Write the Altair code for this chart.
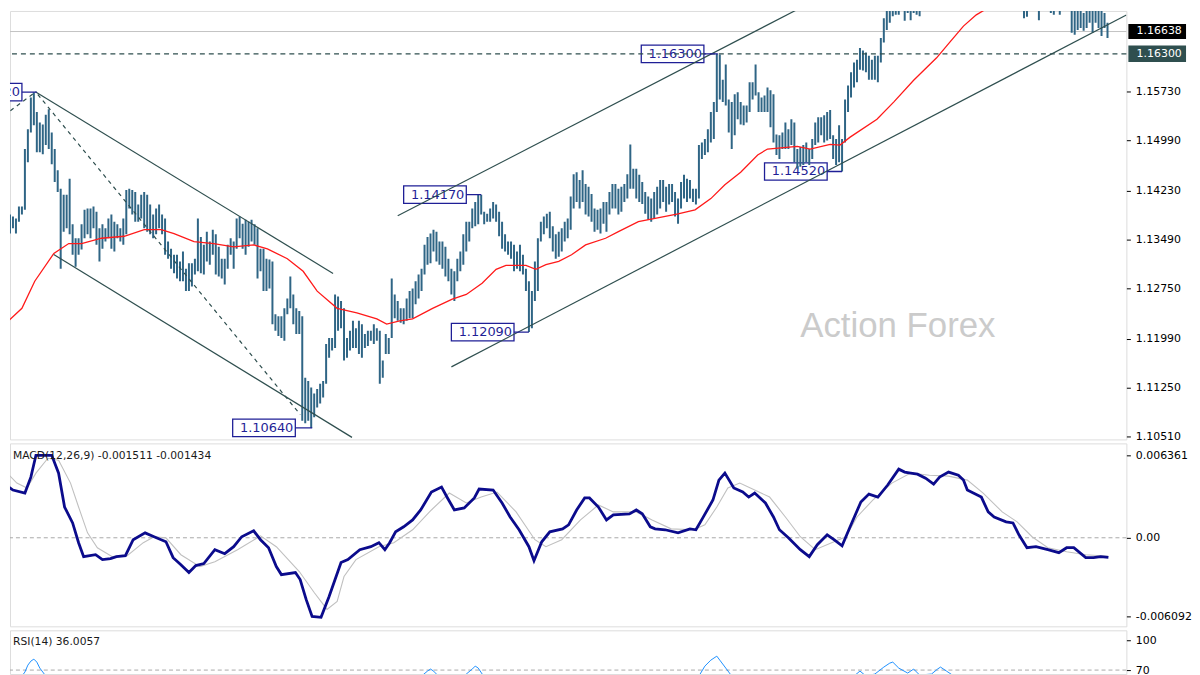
import altair as alt
import pandas as pd

# ---------------- data ----------------
# H4 bars, consecutive, first bar index = 1. Prices stored in pips (price * 10000)
FIRST_BAR = 1
HIGH_PIPS = [
    11387, 11384, 11381, 11399, 11399, 11486, 11516, 11564, 11572, 11542,
    11526, 11523, 11538, 11546, 11511, 11486, 11454, 11426, 11417, 11417,
    11441, 11372, 11351, 11351, 11372, 11394, 11396, 11396, 11399, 11391,
    11366, 11372, 11366, 11381, 11387, 11376, 11372, 11366, 11381, 11424,
    11426, 11424, 11421, 11402, 11417, 11421, 11417, 11402, 11387, 11396,
    11402, 11387, 11381, 11346, 11335, 11326, 11326, 11316, 11331, 11305,
    11313, 11313, 11320, 11381, 11353, 11341, 11361, 11346, 11364, 11357,
    11338, 11320, 11320, 11341, 11351, 11346, 11381, 11384, 11373, 11379,
    11376, 11379, 11372, 11366, 11335, 11335, 11320, 11319, 11316, 11236,
    11233, 11233, 11245, 11260, 11293, 11266, 11245, 11241, 11233, 11140,
    11135, 11125, 11116, 11123, 11131, 11135, 11191, 11200, 11200, 11266,
    11263, 11256, 11245, 11200, 11211, 11226, 11215, 11226, 11221, 11206,
    11211, 11211, 11221, 11215, 11211, 11166, 11206, 11200, 11290, 11266,
    11256, 11245, 11245, 11260, 11271, 11275, 11286, 11296, 11305, 11341,
    11353, 11358, 11364, 11361, 11346, 11346, 11338, 11320, 11305, 11301,
    11320, 11331, 11357, 11376, 11376, 11396, 11406, 11418, 11417, 11391,
    11388, 11396, 11406, 11402, 11391, 11376, 11357, 11346, 11346, 11341,
    11331, 11341, 11326, 11305, 11286, 11271, 11316, 11351, 11376, 11384,
    11388, 11391, 11369, 11357, 11361, 11366, 11376, 11381, 11414, 11448,
    11451, 11439, 11454, 11433, 11429, 11418, 11396, 11394, 11396, 11406,
    11406, 11421, 11433, 11433, 11426, 11429, 11433, 11448, 11493, 11456,
    11456, 11447, 11436, 11421, 11414, 11411, 11421, 11429, 11439, 11439,
    11429, 11433, 11433, 11421, 11411, 11436, 11447, 11441, 11439, 11426,
    11426, 11492, 11496, 11501, 11516, 11542, 11557, 11630, 11629, 11591,
    11614, 11561, 11557, 11569, 11572, 11557, 11552, 11552, 11587, 11587,
    11614, 11572, 11564, 11567, 11579, 11575, 11569, 11508, 11507, 11511,
    11526, 11516, 11531, 11526, 11486, 11489, 11492, 11496, 11486, 11501,
    11526, 11534, 11534, 11537, 11542, 11545, 11507, 11501, 11522, 11501,
    11561, 11582, 11602, 11617, 11621, 11639, 11635, 11632, 11627, 11621,
    11627, 11627, 11654, 11684, 11737, 11745, 11752, 11752, 11752, 11760,
    11752, 11760, 11760, 11767, 11767, 11767, 11775, 11782, 11782, 11782,
    11790, 11800, 11810, 11805, 11815, 11820, 11825, 11830, 11820, 11810,
    11800, 11795, 11790, 11800, 11805, 11795, 11790, 11780, 11785, 11790,
    11780, 11775, 11780, 11785, 11775, 11770, 11772, 11768, 11765, 11752,
    11752, 11752, 11767, 11767, 11760, 11752, 11760, 11767, 11760, 11752,
    11752, 11752, 11752, 11760, 11767, 11752, 11737, 11730, 11707, 11699,
    11692, 11699, 11695, 11699, 11696, 11695, 11696, 11692, 11677,
]
LOW_PIPS = [
    11358, 11366, 11358, 11376, 11387, 11394, 11466, 11511, 11522, 11481,
    11481, 11478, 11492, 11486, 11463, 11436, 11421, 11305, 11361, 11366,
    11357, 11326, 11308, 11326, 11334, 11351, 11357, 11351, 11366, 11341,
    11316, 11335, 11346, 11351, 11335, 11331, 11351, 11346, 11341, 11357,
    11396, 11387, 11376, 11376, 11381, 11366, 11361, 11357, 11351, 11357,
    11366, 11357, 11326, 11320, 11305, 11298, 11290, 11286, 11286, 11271,
    11271, 11278, 11296, 11301, 11298, 11296, 11316, 11311, 11326, 11296,
    11293, 11290, 11281, 11305, 11326, 11305, 11335, 11351, 11335, 11326,
    11338, 11346, 11341, 11290, 11301, 11271, 11271, 11275, 11221, 11211,
    11203, 11200, 11196, 11236, 11245, 11221, 11206, 11206, 11075, 11071,
    11075, 11064, 11080, 11095, 11101, 11110, 11131, 11170, 11181, 11185,
    11211, 11215, 11166, 11170, 11181, 11185, 11185, 11176, 11170, 11185,
    11188, 11196, 11191, 11196, 11131, 11140, 11176, 11176, 11200, 11230,
    11226, 11223, 11221, 11226, 11230, 11230, 11251, 11260, 11271, 11296,
    11311, 11313, 11331, 11316, 11311, 11305, 11293, 11286, 11266, 11256,
    11286, 11301, 11311, 11331, 11346, 11366, 11369, 11372, 11387, 11372,
    11376, 11376, 11381, 11376, 11354, 11335, 11331, 11326, 11320, 11301,
    11305, 11301, 11296, 11271, 11209, 11215, 11256, 11271, 11346, 11357,
    11366, 11351, 11331, 11320, 11323, 11331, 11346, 11351, 11364, 11396,
    11406, 11396, 11406, 11387, 11384, 11376, 11361, 11364, 11358, 11373,
    11361, 11387, 11396, 11396, 11387, 11391, 11406, 11411, 11426, 11426,
    11411, 11406, 11403, 11388, 11379, 11376, 11381, 11387, 11396, 11406,
    11391, 11402, 11406, 11384, 11373, 11396, 11411, 11406, 11411, 11406,
    11402, 11411, 11471, 11477, 11481, 11496, 11501, 11542, 11561, 11557,
    11552, 11511, 11486, 11507, 11531, 11523, 11522, 11526, 11542, 11561,
    11567, 11542, 11542, 11542, 11542, 11519, 11496, 11477, 11471, 11486,
    11486, 11486, 11492, 11466, 11456, 11459, 11462, 11466, 11462, 11471,
    11492, 11496, 11507, 11496, 11499, 11501, 11471, 11462, 11466, 11452,
    11496, 11542, 11564, 11579, 11587, 11606, 11605, 11602, 11591, 11591,
    11591, 11587, 11617, 11647, 11666, 11677, 11687, 11689, 11689, 11696,
    11680, 11692, 11681, 11692, 11689, 11687, 11714, 11714, 11714, 11704,
    11720, 11740, 11750, 11745, 11760, 11770, 11775, 11770, 11760, 11750,
    11740, 11735, 11730, 11740, 11745, 11735, 11725, 11720, 11725, 11730,
    11722, 11718, 11720, 11725, 11718, 11715, 11716, 11712, 11710, 11699,
    11684, 11686, 11708, 11711, 11695, 11681, 11699, 11708, 11699, 11692,
    11689, 11695, 11689, 11708, 11711, 11699, 11662, 11659, 11666, 11669,
    11665, 11669, 11677, 11662, 11677, 11669, 11657, 11669, 11654,
]

# red moving average (bar index, price in pips)
MA_BAR = [-0.67, 5, 9.3, 15.7, 20.7, 25, 31.7, 39.3, 46, 51.7, 56, 62.7, 69.3, 76, 82.7,
          87.3, 94, 99.3, 104, 110.7, 117.3, 124, 127.3, 131.7, 136, 142.7, 149.3, 154,
          159.3, 164, 167.3, 174, 177.3, 180.7, 185, 189.3, 194, 200.7, 205, 211.7, 217.3,
          225, 230.7, 236, 240.7, 246, 251.7, 255, 265, 269.3, 276, 279.3, 282.7, 291.7,
          297.3, 304, 311.7, 316, 320.7, 325, 331.7, 341.7, 369]
MA_PIPS = [11221, 11245, 11286, 11328, 11343, 11343, 11351, 11354, 11364, 11364, 11358,
           11346, 11343, 11338, 11341, 11335, 11320, 11301, 11271, 11245, 11238, 11229,
           11221, 11226, 11229, 11245, 11259, 11266, 11283, 11304, 11310, 11310, 11304,
           11311, 11316, 11326, 11341, 11351, 11361, 11376, 11381, 11388, 11394, 11411,
           11432, 11451, 11477, 11486, 11490, 11486, 11493, 11492, 11504, 11531, 11557,
           11590, 11624, 11647, 11672, 11689, 11707, 11725, 11740]

# trend lines: (name, bar1, price1, bar2, price2, dashed)
TRENDS = [
    ("down_top", 9.5, 1.15725, 109.33, 1.12978, False),
    ("down_bottom", 15.67, 1.13264, 115.67, 1.10497, False),
    ("down_mid", 10.33, 1.15685, 98.33, 1.10842, True),
    ("left_rise", -1.0, 1.15369, 9.33, 1.15715, True),
    ("up_top", 131.0, 1.13850, 275.0, 1.17204, False),
    ("up_bottom", 149.0, 1.11564, 375.33, 1.16888, False),
]

# price labels on the chart: text, price, bar at box right edge, bar the connector reaches
LABEL_TEXT = ["1.15720", "1.16300", "1.14170", "1.14520", "1.12090", "1.10640"]
LABEL_PRICE = [1.15720, 1.16300, 1.14170, 1.14520, 1.12090, 1.10640]
LABEL_RIGHT = [5.0, 233.67, 154.0, 275.0, 170.0, 96.67]
LABEL_END = [10.0, 238.33, 159.0, 280.0, 175.0, 102.33]

PRICE_TICKS = [1.15730, 1.14990, 1.14230, 1.13490, 1.12750, 1.11990, 1.11250, 1.10510]
LAST_PRICE = 1.16638
LEVEL_PRICE = 1.16300

# MACD main (bar index, value * 1e4)
MACD_BAR = [-0.33, 2, 6, 8, 9.7, 15, 17.3, 19.3, 22, 24, 25.7, 29.7, 32, 34.7, 36.7, 39.7,
            42.3, 46.3, 49.3, 53.3, 55.7, 58.3, 61, 63.3, 66, 69.7, 73, 76, 78.7, 82.7, 85,
            87.7, 90.3, 92, 96.7, 98.3, 100.3, 102.3, 105.3, 108, 110, 112, 114.3, 118.3,
            122, 124.7, 126.7, 128.3, 130.3, 133, 136, 138.7, 142.3, 145.7, 147.7, 150,
            153.3, 156.7, 158.3, 163, 166, 168.7, 171.7, 175, 176.7, 179.3, 182, 186.3,
            188.3, 191, 193.7, 195.3, 198.3, 201, 203.3, 208.7, 211, 213, 215.7, 217.3,
            220.7, 225, 229, 231, 233.3, 236.7, 238.7, 240.7, 243.7, 246.7, 248.7, 250.7,
            254.3, 257, 259, 262, 266, 269, 271.7, 275, 277.3, 280, 282.7, 286.3, 289, 292,
            295.3, 299, 301, 303, 305.3, 308, 310.7, 312.7, 315.7, 319, 320.7, 322, 324,
            326.7, 329, 331, 335, 337.3, 339.3, 342, 345, 349, 352.7, 355.3, 357.7, 361.7,
            364.3, 366.7, 369.3]
MACD_VAL = [40.8, 36.9, 34.6, 46.9, 63.8, 63.8, 50.0, 23.8, 11.5, -3.8, -14.6, -13.1, -16.9,
            -16.1, -14.6, -13.8, -1.5, 3.8, 0.8, -3.1, -15.4, -20.8, -26.9, -21.5, -20.0,
            -9.2, -12.3, -6.9, 0.8, 5.4, -1.5, -7.7, -22.3, -28.5, -26.9, -32.3, -47.7,
            -60.8, -61.5, -45.4, -32.3, -19.2, -16.9, -9.2, -6.9, -3.8, -9.2, -3.8, 4.6,
            8.5, 13.8, 21.5, 35.4, 39.2, 30.8, 21.5, 23.1, 30.8, 37.7, 36.9, 26.9, 16.1,
            6.2, -6.9, -17.7, -3.1, 4.6, 6.9, 10.0, 21.5, 30.8, 30.8, 23.8, 13.8, 17.7,
            18.5, 21.5, 18.5, 8.5, 6.9, 6.2, 3.8, 6.9, 6.2, 15.4, 29.2, 44.6, 50.0, 38.5,
            35.4, 31.5, 34.6, 26.9, 16.1, 6.2, 0.0, -9.2, -14.6, -5.4, 2.3, -1.5, -6.2, 8.5,
            27.7, 33.8, 31.5, 40.8, 53.1, 50.8, 50.0, 49.2, 46.1, 41.5, 46.9, 50.8, 48.4,
            44.6, 36.9, 34.6, 31.5, 20.0, 16.1, 12.3, 11.5, 2.3, -7.7, -6.9, -9.2, -11.5,
            -7.7, -7.7, -15.4, -15.4, -14.6, -15.11]
# MACD signal (bar index, value * 1e4)
SIG_BAR = [-0.3, 3.3, 6.7, 9.7, 13.7, 17.3, 21.3, 24, 27, 30.3, 35.3, 40.3, 45.7, 49.3, 53.3,
           58.3, 64.7, 69.7, 77.3, 85, 90.3, 98, 103, 107.3, 110.7, 113, 117, 124.7, 129.7,
           136, 142.3, 148.3, 154, 159, 164.3, 170.7, 177, 180.7, 186, 192.3, 198.3, 203.3,
           211, 216.3, 222.7, 230.3, 234, 238, 241.7, 245.7, 250.7, 255.7, 261, 266, 271,
           277.3, 281.3, 285, 290.3, 296.7, 303, 309.3, 315.7, 322, 327.3, 333.7, 338.7,
           343.7, 349, 355.3, 361.7, 369.3]
SIG_VAL = [50.8, 42.3, 38.5, 50.0, 61.5, 60.0, 42.3, 23.8, 3.8, -7.7, -14.6, -13.8, -3.8, 0.8,
           0.0, -13.1, -22.3, -18.5, -9.2, 1.5, -6.9, -26.1, -42.3, -55.4, -49.2, -30.0,
           -16.9, -6.9, -3.8, 6.2, 21.5, 34.6, 26.9, 31.5, 35.4, 20.0, -1.5, -6.9, -1.5,
           13.8, 25.4, 20.0, 20.0, 13.8, 6.9, 6.2, 10.0, 23.8, 38.5, 42.3, 36.9, 31.5, 16.1,
           0.8, -9.2, -3.1, 0.8, 16.1, 29.2, 42.3, 50.0, 48.4, 47.7, 44.6, 34.6, 20.0, 12.3,
           0.8, -7.7, -10.8, -13.1, -14.34]
MACD_TICKS = [0.006361, 0.0, -0.006092]

# RSI(14)
RSI_BAR = [1, 4, 6, 7, 8, 9, 10, 11, 13, 18, 25, 40, 60, 80, 100, 110, 125, 135, 139, 141,
           142, 143, 145, 150, 154, 156, 157, 158, 160, 175, 190, 209, 225, 232, 234, 236,
           238, 239, 241, 243, 262, 280, 284, 286, 288, 291, 294, 296, 297, 299, 302, 304,
           306, 310, 312, 313, 315, 318, 330, 345, 357, 369]
RSI_VAL = [55, 60, 68, 75, 79, 81, 78, 72, 64, 45, 38, 52, 35, 48, 22, 45, 40, 55, 64, 69,
           71, 69, 63, 55, 66, 71, 74, 72, 63, 38, 60, 62, 50, 64, 74, 80, 84, 80, 72, 64,
           42, 40, 64, 69, 64, 66, 73, 77, 78, 72, 67, 71, 65, 66, 71, 73, 69, 63, 55, 48,
           40, 36]
RSI_TICKS = [100, 70]

# ---------------- styling / layout ----------------
W = 1123
H_MAIN, H_MACD, H_RSI = 431, 184, 44
X_DOM = [1, 375.333]
P_DOM = [1.10466, 1.16949]
M_DOM = [-0.00685, 0.0073]
R_DOM = [66, 110]
BAR_COLOR = "#2f6585"
LINE_COLOR = "#2f4f4f"
LABEL_COLOR = "#1f1f96"
FONT = "DejaVu Sans"

bars_df = pd.DataFrame([
    {"bar": FIRST_BAR + k, "high": h / 1e4, "low": l / 1e4}
    for k, (h, l) in enumerate(zip(HIGH_PIPS, LOW_PIPS))
])
ma_df = pd.DataFrame([{"bar": b, "p": v / 1e4} for b, v in zip(MA_BAR, MA_PIPS)])
trend_rows = []
for name, b1, p1, b2, p2, dashed in TRENDS:
    trend_rows.append({"id": name, "bar": b1, "p": p1, "dashed": dashed})
    trend_rows.append({"id": name, "bar": b2, "p": p2, "dashed": dashed})
trend_df = pd.DataFrame(trend_rows)
labels_df = pd.DataFrame([
    {"text": t, "p": p, "right": r, "end": e, "left": r - 21,
     "top": p + 0.00132, "bot": p - 0.00132}
    for t, p, r, e in zip(LABEL_TEXT, LABEL_PRICE, LABEL_RIGHT, LABEL_END)
])
axis_boxes_df = pd.DataFrame([
    {"p": LAST_PRICE, "text": f"{LAST_PRICE:.5f}", "fill": "#000000",
     "top": LAST_PRICE + 0.00115, "bot": LAST_PRICE - 0.00115},
    {"p": LEVEL_PRICE, "text": f"{LEVEL_PRICE:.5f}", "fill": "#2f4f4f",
     "top": LEVEL_PRICE + 0.00125, "bot": LEVEL_PRICE - 0.00125},
])
macd_df = pd.DataFrame([{"bar": b, "v": v / 1e4} for b, v in zip(MACD_BAR, MACD_VAL)])
sig_df = pd.DataFrame([{"bar": b, "v": v / 1e4} for b, v in zip(SIG_BAR, SIG_VAL)])
rsi_df = pd.DataFrame([{"bar": b, "v": v} for b, v in zip(RSI_BAR, RSI_VAL)])


def axis_common(values, label_expr=None, fmt=None):
    kw = dict(orient="right", values=values, labelFont=FONT, labelFontSize=11,
              labelColor="#000000", tickColor="#000000", tickSize=4, tickWidth=1,
              domain=False, grid=False, labelPadding=5, title=None,
              labelFlush=False, labelOverlap=False, labelBound=False)
    if label_expr is not None:
        kw["labelExpr"] = label_expr
    if fmt is not None:
        kw["format"] = fmt
    return alt.Axis(**kw)


PRICE_AXIS = axis_common(PRICE_TICKS, fmt=".5f")
MACD_AXIS = axis_common(
    MACD_TICKS,
    label_expr=("datum.value == 0 ? '0.00' : (datum.value < 0 ? '-' + format(-datum.value, '.6f')"
                " : format(datum.value, '.6f'))"))
RSI_AXIS = axis_common(RSI_TICKS, fmt="d")


def xenc(field="bar"):
    return alt.X(field, type="quantitative",
                 scale=alt.Scale(domain=X_DOM, nice=False, zero=False), axis=None)


def penc(field):
    return alt.Y(field, type="quantitative",
                 scale=alt.Scale(domain=P_DOM, nice=False, zero=False), axis=PRICE_AXIS)


def menc(field):
    return alt.Y(field, type="quantitative",
                 scale=alt.Scale(domain=M_DOM, nice=False, zero=False), axis=MACD_AXIS)


def renc(field):
    return alt.Y(field, type="quantitative",
                 scale=alt.Scale(domain=R_DOM, nice=False, zero=False), axis=RSI_AXIS)


# ---------------- main price panel ----------------
watermark = alt.Chart(pd.DataFrame([{"bar": 298.7, "p": 1.1218, "t": "Action Forex"}])).mark_text(
    font="Liberation Sans", fontSize=35, color="#cbcbcb", align="center", baseline="middle"
).encode(x=xenc(), y=penc("p"), text="t:N")

label_rects = alt.Chart(labels_df).mark_rect(
    fill="white", stroke=LABEL_COLOR, strokeWidth=1.3, clip=True
).encode(x=xenc("left"), x2="right:Q", y=penc("top"), y2="bot:Q")

label_texts = alt.Chart(labels_df).mark_text(
    font=FONT, fontSize=13, color=LABEL_COLOR, align="right", baseline="middle", clip=True,
    dx=-2
).encode(x=xenc("right"), y=penc("p"), text="text:N")

label_conn = alt.Chart(labels_df).mark_rule(
    color=LABEL_COLOR, strokeWidth=1.3, clip=True
).encode(x=xenc("right"), x2="end:Q", y=penc("p"))

bid_line = alt.Chart(pd.DataFrame([{"p": LAST_PRICE}])).mark_rule(
    color="#c4c4c4", strokeWidth=1
).encode(y=penc("p"))

bars = alt.Chart(bars_df).mark_rule(color=BAR_COLOR, strokeWidth=2, clip=True).encode(
    x=xenc(), y=penc("high"), y2="low:Q"
)

ma_line = alt.Chart(ma_df).mark_line(color="#ff1a1a", strokeWidth=1.3, clip=True).encode(
    x=xenc(), y=penc("p"), order="bar:Q"
)

trend_solid = alt.Chart(trend_df[~trend_df["dashed"]]).mark_line(
    color=LINE_COLOR, strokeWidth=1.2, clip=True
).encode(x=xenc(), y=penc("p"), detail="id:N")

trend_dashed = alt.Chart(trend_df[trend_df["dashed"]]).mark_line(
    color=LINE_COLOR, strokeWidth=1.2, strokeDash=[4, 4], clip=True
).encode(x=xenc(), y=penc("p"), detail="id:N")

level_line = alt.Chart(pd.DataFrame([{"p": LEVEL_PRICE}])).mark_rule(
    color=LINE_COLOR, strokeWidth=1.2, strokeDash=[5, 4]
).encode(y=penc("p"))

axis_boxes = alt.Chart(axis_boxes_df).mark_rect().encode(
    x=alt.value(W + 2), x2=alt.value(W + 60), y=penc("top"), y2="bot:Q",
    color=alt.Color("fill:N", scale=None, legend=None)
)
axis_box_text = alt.Chart(axis_boxes_df).mark_text(
    font=FONT, fontSize=11, color="white", align="center", baseline="middle"
).encode(x=alt.value(W + 33), y=penc("p"), text="text:N")

main = alt.layer(
    watermark, label_rects, label_texts, bid_line, bars, ma_line,
    trend_solid, trend_dashed, level_line, label_conn, axis_boxes, axis_box_text
).properties(width=W, height=H_MAIN)

# ---------------- MACD panel ----------------
macd_zero = alt.Chart(pd.DataFrame([{"v": 0.0}])).mark_rule(
    color="#a8a8a8", strokeWidth=1, strokeDash=[4, 3]
).encode(y=menc("v"))
sig_line = alt.Chart(sig_df).mark_line(color="#c0c0c0", strokeWidth=1.1, clip=True).encode(
    x=xenc(), y=menc("v"), order="bar:Q")
macd_line = alt.Chart(macd_df).mark_line(color="#0b0b8c", strokeWidth=2.8, clip=True).encode(
    x=xenc(), y=menc("v"), order="bar:Q")
macd_title = alt.Chart(pd.DataFrame([{"t": "MACD(12,26,9) -0.001511 -0.001434"}])).mark_text(
    font=FONT, fontSize=10.8, color="#1a1a1a", align="left", baseline="middle"
).encode(x=alt.value(3), y=alt.value(13), text="t:N")
macd = alt.layer(macd_zero, sig_line, macd_line, macd_title).properties(width=W, height=H_MACD)

# ---------------- RSI panel ----------------
rsi_70 = alt.Chart(pd.DataFrame([{"v": 70}])).mark_rule(
    color="#a8a8a8", strokeWidth=1, strokeDash=[4, 3], clip=True
).encode(y=renc("v"))
rsi_line = alt.Chart(rsi_df).mark_line(color="#1e90ff", strokeWidth=1, clip=True).encode(
    x=xenc(), y=renc("v"), order="bar:Q")
rsi_title = alt.Chart(pd.DataFrame([{"t": "RSI(14) 36.0057"}])).mark_text(
    font=FONT, fontSize=10.8, color="#1a1a1a", align="left", baseline="middle"
).encode(x=alt.value(3), y=alt.value(12), text="t:N")
rsi = alt.layer(rsi_70, rsi_line, rsi_title).properties(width=W, height=H_RSI)

chart = alt.vconcat(main, macd, rsi, spacing=4, bounds="flush").properties(
    padding={"left": 0, "top": 0, "right": 0, "bottom": 0}, background="white"
).configure_view(stroke="#000000", strokeWidth=1).configure(font=FONT)

chart.save("out.html", embed_options={"renderer": "svg", "actions": False})
